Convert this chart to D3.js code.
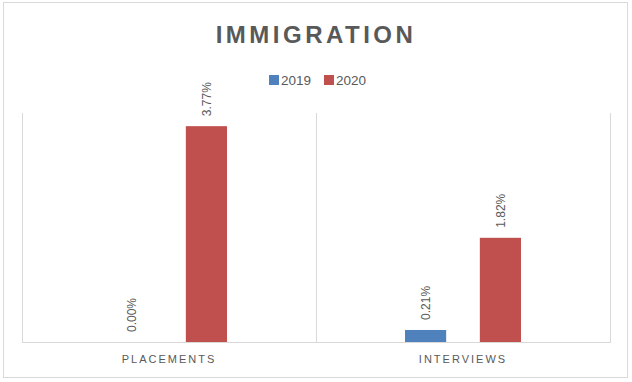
<!DOCTYPE html>
<html><head><meta charset="utf-8">
<script src="https://cdn.jsdelivr.net/npm/d3@7"></script>
<style>body{margin:0;background:#fff}svg{display:block}</style>
</head><body>
<script>
const categories = ["PLACEMENTS", "INTERVIEWS"];
const seriesNames = ["2019", "2020"];
const values2019 = [0.00, 0.21];
const values2020 = [3.77, 1.82];
const seriesColors = ["#4f81bd", "#c0504d"];

const W = 632, H = 382;
const svg = d3.select("body").append("svg").attr("width", W).attr("height", H);
const font = "'Liberation Sans', Arial, sans-serif";
const grey = "#595959";

svg.append("rect").attr("x", 3.5).attr("y", 2.5).attr("width", 624).attr("height", 375)
  .attr("fill", "#fff").attr("stroke", "#d9d9d9");

const m = {left: 22, right: 610, top: 113, bottom: 342};
const x = d3.scaleBand().domain(categories).range([m.left, m.right]);
const x1 = d3.scaleBand().domain(seriesNames).range([89, x.bandwidth() - 89]).paddingInner(0.45);
const y = d3.scaleLinear().domain([0, 4]).range([m.bottom, m.top]);

// category separators
const bounds = [m.left, ...categories.map(c => x(c) + x.bandwidth())];
svg.selectAll("line.sep").data(bounds).enter().append("line")
  .attr("x1", d => Math.round(d) + 0.5).attr("x2", d => Math.round(d) + 0.5)
  .attr("y1", m.top).attr("y2", m.bottom).attr("stroke", "#d9d9d9");
svg.append("line").attr("x1", m.left).attr("x2", m.right + 1)
  .attr("y1", m.bottom + 0.5).attr("y2", m.bottom + 0.5).attr("stroke", "#d9d9d9");

const data = [];
categories.forEach((c, i) => {
  data.push({c, s: "2019", v: values2019[i], color: seriesColors[0]});
  data.push({c, s: "2020", v: values2020[i], color: seriesColors[1]});
});

const g = svg.append("g");
g.selectAll("rect.bar").data(data).enter().append("rect")
  .attr("x", d => x(d.c) + x1(d.s)).attr("width", x1.bandwidth())
  .attr("y", d => y(d.v)).attr("height", d => y(0) - y(d.v))
  .attr("fill", d => d.color);

g.selectAll("text.lbl").data(data).enter().append("text")
  .attr("transform", d => `translate(${x(d.c) + x1(d.s) + x1.bandwidth() / 2 + 4.5},${y(d.v) - 10}) rotate(-90)`)
  .attr("font-family", font).attr("font-size", 12).attr("fill", grey)
  .text(d => d.v.toFixed(2) + "%");

// category axis labels
svg.selectAll("text.cat").data(categories).enter().append("text")
  .attr("x", d => x(d) + x.bandwidth() / 2).attr("y", 363)
  .attr("text-anchor", "middle").attr("font-family", font).attr("font-size", 11)
  .attr("letter-spacing", "2px").attr("fill", grey).text(d => d);

// title
svg.append("text").attr("x", 316).attr("y", 43).attr("text-anchor", "middle")
  .attr("font-family", font).attr("font-size", 24).attr("font-weight", "bold")
  .attr("letter-spacing", "3.5px").attr("fill", grey).text("IMMIGRATION");

// legend
const leg = svg.append("g");
const legX = [269, 324];
seriesNames.forEach((s, i) => {
  leg.append("rect").attr("x", legX[i]).attr("y", 75).attr("width", 10).attr("height", 10).attr("fill", seriesColors[i]);
  leg.append("text").attr("x", legX[i] + 12).attr("y", 85).attr("font-family", font)
    .attr("font-size", 13.5).attr("fill", grey).text(s);
});
</script>
</body></html>
